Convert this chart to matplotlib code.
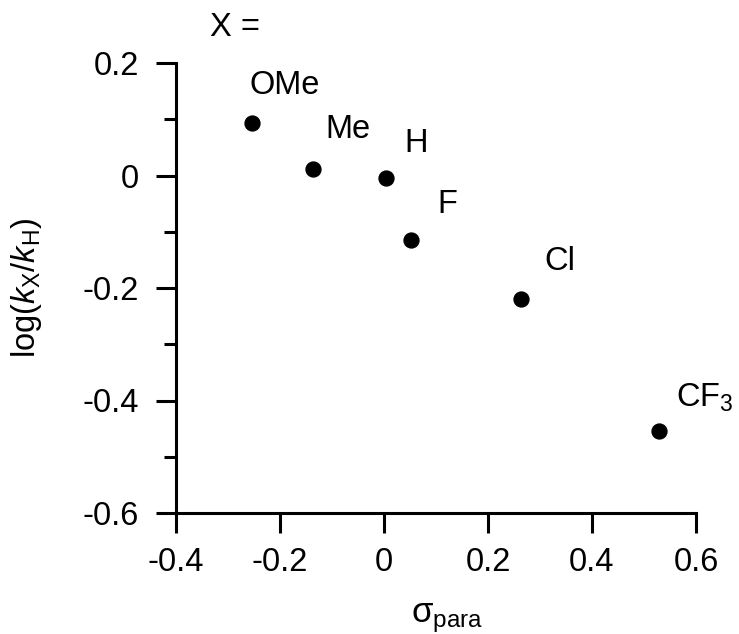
import matplotlib
matplotlib.use("Agg")
import matplotlib.pyplot as plt
from matplotlib.ticker import MultipleLocator

plt.rcParams['font.family'] = ['Liberation Sans', 'DejaVu Sans']
plt.rcParams['mathtext.fontset'] = 'custom'
plt.rcParams['mathtext.rm'] = 'Liberation Sans'
plt.rcParams['mathtext.it'] = 'Liberation Sans:italic'
plt.rcParams['mathtext.bf'] = 'Liberation Sans:bold'

substituents = ['OMe', 'Me', 'H', 'F', 'Cl', r'CF$_3$']
sigma_para = [-0.254, -0.137, 0.004, 0.052, 0.263, 0.529]
log_ratio = [0.094, 0.012, -0.004, -0.114, -0.220, -0.455]
x_ticks = [-0.4, -0.2, 0, 0.2, 0.4, 0.6]
y_ticks = [-0.6, -0.4, -0.2, 0, 0.2]
x_ticklabels = ['-0.4', '-0.2', '0', '0.2', '0.4', '0.6']
y_ticklabels = ['-0.6', '-0.4', '-0.2', '0', '0.2']
# label offsets (points) relative to each marker
label_offsets = [(-2, 27), (9, 28.5), (13, 25), (19, 25), (17, 27), (12, 24)]

FS = 23.5
W, H = 739, 634
fig = plt.figure(figsize=(W / 100, H / 100), dpi=100)
ax = fig.add_axes([176 / W, 1 - 513 / H, 520 / W, 450 / H])

ax.scatter(sigma_para, log_ratio, s=115, color='black', zorder=3, clip_on=False)
for name, x, y, (dx, dy) in zip(substituents, sigma_para, log_ratio, label_offsets):
    ax.annotate(name, (x, y), xytext=(dx, dy), textcoords='offset points',
                ha='left', va='center', fontsize=FS)

ax.set_xlim(-0.4, 0.6)
ax.set_ylim(-0.6, 0.2)
ax.set_xticks(x_ticks)
ax.set_xticklabels(x_ticklabels)
ax.set_yticks(y_ticks)
ax.set_yticklabels(y_ticklabels)
ax.yaxis.set_minor_locator(MultipleLocator(0.1))

for s in ['top', 'right']:
    ax.spines[s].set_visible(False)
for s in ['left', 'bottom']:
    ax.spines[s].set_linewidth(2.2)

ax.tick_params(axis='both', which='major', direction='out', length=14.5, width=2.2,
               labelsize=FS)
ax.tick_params(axis='x', which='major', pad=10)
ax.tick_params(axis='y', which='major', pad=12)
ax.tick_params(axis='y', which='minor', direction='out', length=8.5, width=2.2)

ax.set_xlabel(r'$\mathrm{σ}_{\mathrm{para}}$', fontsize=25)
ax.xaxis.set_label_coords((447 - 176) / 520, -(601 - 513) / 450)
ax.set_ylabel(r'log($\mathit{k}_{\mathrm{X}}$/$\mathit{k}_{\mathrm{H}}$)', fontsize=FS,
              va='center')
ax.yaxis.set_label_coords(-(176 - 27) / 520, 0.5)

fig.text(210 / W, 1 - 27 / H, 'X =', fontsize=FS, ha='left', va='center')

fig.savefig('out.png', dpi=100)
